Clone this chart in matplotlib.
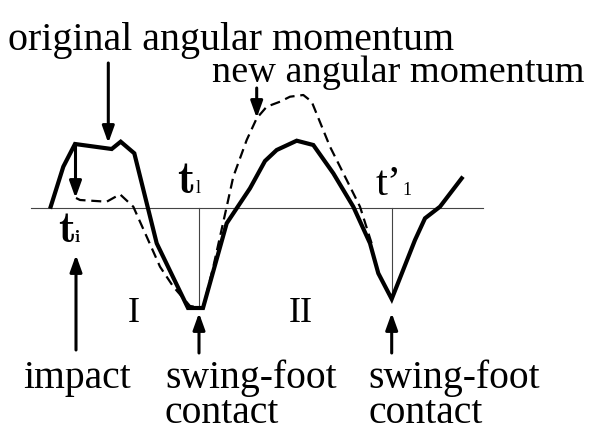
import matplotlib
matplotlib.use("Agg")
import matplotlib.pyplot as plt

# ---- data (time in px-like units, momentum relative to the zero line) ----
orig_t = [50.7, 63.3, 75, 111.7, 120.7, 134.3, 156.7, 188, 203, 226.7, 250, 265,
          276.7, 296.7, 313.3, 333.3, 353.3, 370, 378.3, 391.7, 415, 425, 440, 461.7]
orig_m = [0.8, 40.8, 63.5, 58.5, 65.8, 54.2, -35.8, -100.5, -100.5, -15.8, 19.2, 46.5,
          57.5, 66.8, 62.5, 34.2, 0.8, -35.8, -65.8, -91.5, -32.5, -10.8, 0.8, 29.2]

new_t = [76, 80, 106.7, 120, 133.3, 146.7, 160, 173.3, 190, 203, 213.3, 226.7, 233.3,
         246.7, 256.7, 266.7, 280, 290, 303.3, 311.7, 330, 346.7, 360, 372]
new_m = [9.5, 7.5, 5.8, 13.2, 0.8, -29.2, -59.2, -79.2, -98.5, -100.5, -59.2, 0.8, 30.8,
         67.5, 89.2, 100.8, 105.8, 110.8, 112.5, 105.8, 60.8, 27.5, 0.8, -37]

zero_span = [31, 483]
contact_times = [199, 391.7]
contact_levels = [-100.5, -91.5]

# arrows: (x, y_start, y_end)
arrows = [(108.3, 144.5, 64.5),
          (256.7, 119.5, 89.5),
          (75.5, 63.5, 9.5),
          (76, -142.5, -47.5),
          (199, -145.5, -105.5),
          (391.7, -145.5, -105.5)]

BASE = 207.5  # pixel row of zero line
plt.rcParams["mathtext.fontset"] = "cm"
fig = plt.figure(figsize=(5.92, 4.38), dpi=100)
ax = fig.add_axes([0, 0, 1, 1])
ax.set_xlim(0, 592)
ax.set_ylim(BASE - 438, BASE)
ax.axis("off")

serif = "Liberation Serif"

ax.plot(zero_span, [0, 0], color="#444444", lw=0.8)
for t, lv in zip(contact_times, contact_levels):
    ax.plot([t, t], [0, lv], color="#444444", lw=0.8)

ax.plot(orig_t, orig_m, color="black", lw=3.0, solid_joinstyle="miter")
ax.plot(new_t, new_m, color="black", lw=1.6, linestyle=(0, (4.5, 2.6)))

for x, y0, y1 in arrows:
    ax.annotate("", xy=(x, y1), xytext=(x, y0),
                arrowprops=dict(arrowstyle="-|>,head_length=0.5,head_width=0.18",
                                mutation_scale=20, lw=2.2, color="black",
                                shrinkA=0, shrinkB=0))

def txt(x, ypix, s, size, **kw):
    kw.setdefault("family", serif)
    ax.text(x, BASE - ypix, s, fontsize=size, va="baseline", **kw)

txt(8, 50, "original angular momentum", 28.8)
txt(212, 82, "new angular momentum", 27.5)

# time labels
txt(177, 193, r"$\mathbf{t}$", 33)
txt(196, 193, "l", 13)
txt(58, 242, r"$\mathbf{t}$", 32)
txt(74, 242, r"$\mathbf{i}$", 13)
txt(376, 195, "t\u2019", 31)
txt(402, 195, "1", 13)

txt(134, 322, "I", 26, ha="center")
txt(301, 322, "II", 26, ha="center")

txt(23, 388, "impact", 28.5)
txt(165, 388, "swing-foot", 28.5)
txt(165, 423, "contact", 28.5)
txt(368, 388, "swing-foot", 28.5)
txt(368, 423, "contact", 28.5)

fig.savefig("out.png", dpi=100)
